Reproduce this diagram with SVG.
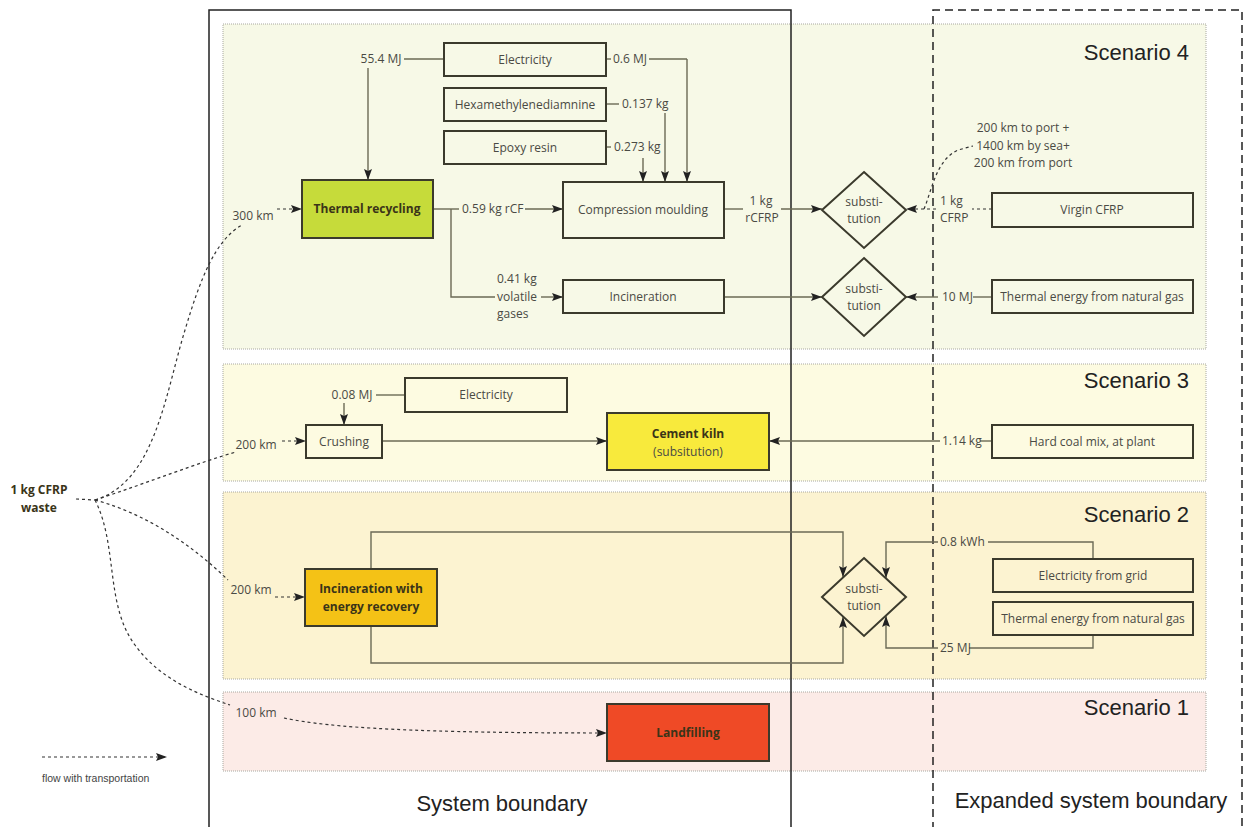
<svg xmlns="http://www.w3.org/2000/svg" width="1247" height="827" viewBox="0 0 1247 827">
<defs>
<marker id="ah" viewBox="0 0 11 8" refX="11" refY="4" markerWidth="11" markerHeight="8" markerUnits="userSpaceOnUse" orient="auto">
<path d="M0,0 L11,4 L0,8 L2,4 z" fill="#222"/>
</marker>
<style>
.panel{stroke:#a8a8a0;stroke-width:1;stroke-dasharray:1 1}
.box{fill:none;stroke:#3b3a2c;stroke-width:2}
.cbox{stroke:#3b3a2c;stroke-width:2}
.dia{fill:none;stroke:#3b3a2c;stroke-width:2}
.ln{fill:none;stroke:#6b6a55;stroke-width:1.4}
.arr{fill:none;stroke:#6b6a55;stroke-width:1.4;marker-end:url(#ah)}
.tr{fill:none;stroke:#333;stroke-width:1.2;stroke-dasharray:3 3}
.tra{fill:none;stroke:#333;stroke-width:1.2;stroke-dasharray:3 3;marker-end:url(#ah)}
.t{font-family:"Open Sans","Liberation Sans",sans-serif;font-size:12px;fill:#4a4a44}
.tc{font-family:"Open Sans","Liberation Sans",sans-serif;font-size:12px;fill:#4a4a44;text-anchor:middle}
.tb{font-family:"Open Sans","Liberation Sans",sans-serif;font-size:12px;font-weight:bold;fill:#3a3418;text-anchor:middle}
.sc{font-family:"Liberation Sans",Arial,sans-serif;font-size:22px;fill:#222;text-anchor:end}
.bd{font-family:"Liberation Sans",Arial,sans-serif;font-size:22px;fill:#222;text-anchor:middle}
</style>
</defs>
<rect width="1247" height="827" fill="#fff"/>

<g id="panels">
<rect id="scenario4" class="panel" x="223" y="24" width="983" height="325" fill="#f7f9e7"/>
<rect id="scenario3" class="panel" x="223" y="364" width="983" height="117" fill="#fdfbe1"/>
<rect id="scenario2" class="panel" x="223" y="492" width="983" height="187" fill="#fcf3d1"/>
<rect id="scenario1" class="panel" x="223" y="692" width="983" height="79" fill="#fcebe7"/>
<text class="sc" x="1189" y="60">Scenario 4</text>
<text class="sc" x="1189" y="388">Scenario 3</text>
<text class="sc" x="1189" y="522">Scenario 2</text>
<text class="sc" x="1189" y="715">Scenario 1</text>
</g>

<g id="boundaries">
<path d="M209,830 V10 H791 V830" fill="none" stroke="#222" stroke-width="1.5"/>
<path d="M933,830 V10 H1242 V830" fill="none" stroke="#222" stroke-width="1.5" stroke-dasharray="8 5"/>
<text class="bd" x="502" y="811">System boundary</text>
<text class="bd" x="1091" y="808">Expanded system boundary</text>
</g>

<g id="connectors">
<!-- scenario 4 -->
<path class="ln" d="M404,59 H444"/>
<path class="arr" d="M368,68 V180"/>
<path class="ln" d="M606,59 H611"/>
<path class="ln" d="M649,59 H687"/>
<path class="arr" d="M687,59 V182"/>
<path class="ln" d="M606,104 H619"/>
<path class="arr" d="M665,113 V182"/>
<path class="ln" d="M606,147 H611"/>
<path class="arr" d="M643,158 V182"/>
<path class="ln" d="M433,209 H459"/>
<path class="arr" d="M525,209 H563"/>
<path class="ln" d="M451,209 V297 H495"/>
<path class="arr" d="M541,297 H563"/>
<path class="ln" d="M724,209 H743"/>
<path class="arr" d="M781,209 H822"/>
<path class="tr" d="M992,209 H972"/>
<path class="tra" d="M936,209 H906"/>
<path class="tr" d="M924,209 C932,190 936,160 958,150 L973,146"/>
<path class="arr" d="M724,297 H822"/>
<path class="ln" d="M992,297 H973"/>
<path class="arr" d="M938,297 H906"/>
<!-- scenario 3 -->
<path class="ln" d="M376,395 H405"/>
<path class="arr" d="M344,403 V425"/>
<path class="arr" d="M382,441 H607"/>
<path class="ln" d="M992,441 H980"/>
<path class="arr" d="M940,441 H769"/>
<!-- scenario 2 -->
<path class="arr" d="M371,569 V532 H843 V577"/>
<path class="arr" d="M371,626 V663 H843 V617"/>
<path class="arr" d="M938,542 H886 V578"/>
<path class="ln" d="M988,542 H1093 V559"/>
<path class="arr" d="M938,648 H886 V616"/>
<path class="ln" d="M969,648 H1093 V635"/>
<!-- transport -->
<path class="tr" d="M76,499 L95,500"/>
<path class="tr" d="M95,500 C155,482 165,395 185,330 C200,280 215,240 242,225"/>
<path class="tra" d="M277,209 H302"/>
<path class="tr" d="M95,500 C150,482 200,462 236,452"/>
<path class="tra" d="M282,441 H306"/>
<path class="tr" d="M95,500 C150,515 195,548 228,580"/>
<path class="tra" d="M275,597 H305"/>
<path class="tr" d="M95,500 C118,545 105,605 135,645 C160,680 200,695 230,705"/>
<path class="tra" d="M284,718 C330,728 420,733 607,733"/>
<path class="tra" d="M42,757 H167"/>
</g>

<g id="labels">
<text class="tc" x="381" y="63">55.4 MJ</text>
<text class="t" x="613" y="63">0.6 MJ</text>
<text class="t" x="622" y="108">0.137 kg</text>
<text class="t" x="614" y="151">0.273 kg</text>
<text class="t" x="462" y="213">0.59 kg rCF</text>
<text class="t" x="497" y="283">0.41 kg</text>
<text class="t" x="497" y="301">volatile</text>
<text class="t" x="497" y="318">gases</text>
<text class="tc" x="761" y="205">1 kg</text>
<text class="tc" x="762" y="222">rCFRP</text>
<text class="t" x="940" y="205">1 kg</text>
<text class="t" x="940" y="222">CFRP</text>
<text class="tc" x="1023" y="132">200 km to port +</text>
<text class="tc" x="1023" y="150">1400 km by sea+</text>
<text class="tc" x="1023" y="167">200 km from port</text>
<text class="t" x="942" y="301">10 MJ</text>
<text class="tc" x="352" y="399">0.08 MJ</text>
<text class="t" x="942" y="445">1.14 kg</text>
<text class="t" x="940" y="546">0.8 kWh</text>
<text class="t" x="940" y="652">25 MJ</text>
<text class="tc" x="253" y="220">300 km</text>
<text class="tc" x="256" y="449">200 km</text>
<text class="tc" x="251" y="594">200 km</text>
<text class="tc" x="256" y="717">100 km</text>
<text x="42" y="782" font-family="'Liberation Sans',Arial,sans-serif" font-size="10.5" fill="#444">flow with transportation</text>
</g>

<g id="source">
<text class="tb" x="39" y="494" fill="#333">1 kg CFRP</text>
<text class="tb" x="39" y="512" fill="#333">waste</text>
</g>

<g id="electricity4"><rect class="box" x="444" y="43" width="162" height="33"/><text class="tc" x="525" y="64">Electricity</text></g>
<g id="hexa"><rect class="box" x="444" y="88" width="162" height="33"/><text class="tc" x="525" y="109">Hexamethylenediamnine</text></g>
<g id="epoxy"><rect class="box" x="444" y="131" width="162" height="33"/><text class="tc" x="525" y="152">Epoxy resin</text></g>
<g id="thermal-recycling"><rect class="cbox" x="302" y="180" width="131" height="58" fill="#c6db3a"/><text class="tb" x="367" y="213">Thermal recycling</text></g>
<g id="compression"><rect class="box" x="563" y="182" width="161" height="56"/><text class="tc" x="643" y="214">Compression moulding</text></g>
<g id="subst4a"><path class="dia" d="M864,172 L906,210 L864,248 L822,210 Z"/><text class="tc" x="864" y="206">substi-</text><text class="tc" x="864" y="223">tution</text></g>
<g id="virgin-cfrp"><rect class="box" x="992" y="193" width="201" height="34"/><text class="tc" x="1092" y="214">Virgin CFRP</text></g>
<g id="incineration4"><rect class="box" x="563" y="280" width="161" height="33"/><text class="tc" x="643" y="301">Incineration</text></g>
<g id="subst4b"><path class="dia" d="M864,258 L906,297 L864,336 L822,297 Z"/><text class="tc" x="864" y="293">substi-</text><text class="tc" x="864" y="310">tution</text></g>
<g id="thermal-gas4"><rect class="box" x="992" y="280" width="201" height="33"/><text class="tc" x="1092" y="301">Thermal energy from natural gas</text></g>

<g id="electricity3"><rect class="box" x="405" y="378" width="162" height="34"/><text class="tc" x="486" y="399">Electricity</text></g>
<g id="crushing"><rect class="box" x="306" y="425" width="76" height="33"/><text class="tc" x="344" y="446">Crushing</text></g>
<g id="cement-kiln"><rect class="cbox" x="607" y="413" width="162" height="57" fill="#f8ea3c"/><text class="tb" x="688" y="438">Cement kiln</text><text class="tc" x="688" y="456">(subsitution)</text></g>
<g id="hard-coal"><rect class="box" x="992" y="425" width="201" height="33"/><text class="tc" x="1092" y="446">Hard coal mix, at plant</text></g>

<g id="incineration-er"><rect class="cbox" x="305" y="569" width="132" height="57" fill="#f4c216"/><text class="tb" x="371" y="593">Incineration with</text><text class="tb" x="371" y="611">energy recovery</text></g>
<g id="subst2"><path class="dia" d="M864,558 L906,597 L864,636 L822,597 Z"/><text class="tc" x="864" y="593">substi-</text><text class="tc" x="864" y="610">tution</text></g>
<g id="electricity-grid"><rect class="box" x="993" y="559" width="200" height="33"/><text class="tc" x="1093" y="580">Electricity from grid</text></g>
<g id="thermal-gas2"><rect class="box" x="993" y="602" width="200" height="33"/><text class="tc" x="1093" y="623">Thermal energy from natural gas</text></g>

<g id="landfilling"><rect class="cbox" x="607" y="704" width="162" height="57" fill="#ef4a26"/><text class="tb" x="688" y="737">Landfilling</text></g>
</svg>
